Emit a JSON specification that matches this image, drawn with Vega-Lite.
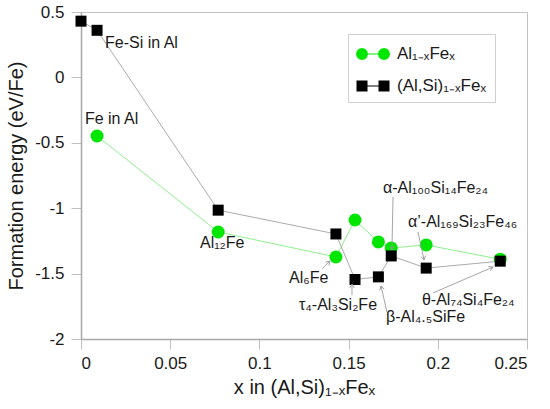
{
  "$schema": "https://vega.github.io/schema/vega-lite/v6.json",
  "autosize": "none",
  "width": 446,
  "height": 327,
  "padding": {"left": 81, "top": 12, "right": 23, "bottom": 70},
  "background": "white",
  "config": {
    "font": "Liberation Sans",
    "view": {"stroke": "#c4c4c4", "strokeWidth": 1},
    "axis": {
      "grid": false,
      "domainColor": "#a8a8a8",
      "domainWidth": 1.5,
      "tickColor": "#c0c0c0",
      "tickWidth": 1,
      "tickSize": 10,
      "labelFont": "Liberation Sans",
      "labelFontSize": 17,
      "labelColor": "#1a1a1a",
      "titleFont": "Liberation Sans",
      "titleFontSize": 20,
      "titleFontWeight": "normal",
      "titleColor": "#1a1a1a"
    }
  },
  "datasets": {
    "series": [
      {"x": 0.0, "y": 0.43, "s": "(Al,Si)₁₋ₓFeₓ"},
      {"x": 0.009, "y": 0.36, "s": "(Al,Si)₁₋ₓFeₓ"},
      {"x": 0.0769, "y": -1.015, "s": "(Al,Si)₁₋ₓFeₓ"},
      {"x": 0.1429, "y": -1.197, "s": "(Al,Si)₁₋ₓFeₓ"},
      {"x": 0.1536, "y": -1.545, "s": "(Al,Si)₁₋ₓFeₓ"},
      {"x": 0.1667, "y": -1.525, "s": "(Al,Si)₁₋ₓFeₓ"},
      {"x": 0.1739, "y": -1.365, "s": "(Al,Si)₁₋ₓFeₓ"},
      {"x": 0.1935, "y": -1.458, "s": "(Al,Si)₁₋ₓFeₓ"},
      {"x": 0.235, "y": -1.405, "s": "(Al,Si)₁₋ₓFeₓ"},
      {"x": 0.009, "y": -0.448, "s": "Al₁₋ₓFeₓ"},
      {"x": 0.0769, "y": -1.182, "s": "Al₁₋ₓFeₓ"},
      {"x": 0.1429, "y": -1.373, "s": "Al₁₋ₓFeₓ"},
      {"x": 0.1536, "y": -1.09, "s": "Al₁₋ₓFeₓ"},
      {"x": 0.1667, "y": -1.258, "s": "Al₁₋ₓFeₓ"},
      {"x": 0.1739, "y": -1.304, "s": "Al₁₋ₓFeₓ"},
      {"x": 0.1935, "y": -1.281, "s": "Al₁₋ₓFeₓ"},
      {"x": 0.235, "y": -1.39, "s": "Al₁₋ₓFeₓ"}
    ],
    "labels": [
      {"x": 0.01345, "y": 0.263, "t": "Fe-Si in Al"},
      {"x": 0.0022, "y": -0.318, "t": "Fe in Al"},
      {"x": 0.0667, "y": -1.266, "t": "Al₁₂Fe"},
      {"x": 0.1166, "y": -1.534, "t": "Al₆Fe"},
      {"x": 0.1222, "y": -1.74, "t": "τ₄-Al₃Si₂Fe"},
      {"x": 0.171, "y": -1.832, "t": "β-Al₄.₅SiFe"},
      {"x": 0.1693, "y": -0.846, "t": "α-Al₁₀₀Si₁₄Fe₂₄"},
      {"x": 0.1833, "y": -1.105, "t": "α’-Al₁₆₉Si₂₃Fe₄₆"},
      {"x": 0.1911, "y": -1.702, "t": "θ-Al₇₄Si₄Fe₂₄"}
    ],
    "arrows": [
      {"x": 0.1351, "y": -1.465, "x2": 0.1396, "y2": -1.404},
      {"x": 0.1519, "y": -1.664, "x2": 0.1519, "y2": -1.58},
      {"x": 0.1715, "y": -1.794, "x2": 0.1682, "y2": -1.595},
      {"x": 0.1749, "y": -0.914, "x2": 0.1743, "y2": -1.32},
      {"x": 0.1889, "y": -1.182, "x2": 0.1923, "y2": -1.396},
      {"x": 0.1973, "y": -1.648, "x2": 0.2309, "y2": -1.45}
    ]
  },
  "layer": [
    {
      "data": {"name": "series"},
      "transform": [{"filter": "datum.s == 'Al₁₋ₓFeₓ'"}],
      "mark": {"type": "line", "strokeWidth": 1, "color": "#8ff08f"},
      "encoding": {
        "x": {
          "field": "x", "type": "quantitative",
          "scale": {"domain": [0, 0.25], "nice": false, "zero": false},
          "axis": {"values": [0, 0.05, 0.1, 0.15, 0.2, 0.25], "labelExpr": "datum.value + ''", "labelPadding": 6, "titlePadding": 6, "title": "x in (Al,Si)₁₋ₓFeₓ"}
        },
        "y": {
          "field": "y", "type": "quantitative",
          "scale": {"domain": [-2, 0.5], "nice": false, "zero": false},
          "axis": {"values": [-2, -1.5, -1, -0.5, 0, 0.5], "labelExpr": "datum.value + ''", "labelPadding": 7, "titlePadding": 8, "title": "Formation energy (eV/Fe)"}
        }
      }
    },
    {
      "data": {"name": "series"},
      "transform": [{"filter": "datum.s != 'Al₁₋ₓFeₓ'"}],
      "mark": {"type": "line", "strokeWidth": 1, "color": "#ababab"},
      "encoding": {
        "x": {"field": "x", "type": "quantitative"},
        "y": {"field": "y", "type": "quantitative"}
      }
    },
    {
      "data": {"name": "series"},
      "transform": [{"filter": "datum.s == 'Al₁₋ₓFeₓ'"}],
      "mark": {"type": "point", "shape": "circle", "filled": true, "size": 169, "color": "#00e600", "opacity": 1},
      "encoding": {
        "x": {"field": "x", "type": "quantitative"},
        "y": {"field": "y", "type": "quantitative"}
      }
    },
    {
      "data": {"name": "series"},
      "transform": [{"filter": "datum.s != 'Al₁₋ₓFeₓ'"}],
      "mark": {"type": "point", "shape": "square", "filled": true, "size": 121, "color": "#000000", "opacity": 1},
      "encoding": {
        "x": {"field": "x", "type": "quantitative"},
        "y": {"field": "y", "type": "quantitative"}
      }
    },
    {
      "data": {"name": "series"},
      "mark": {"type": "point", "filled": true, "opacity": 0},
      "encoding": {
        "x": {"field": "x", "type": "quantitative"},
        "y": {"field": "y", "type": "quantitative"},
        "fill": {
          "field": "s", "type": "nominal",
          "scale": {"domain": ["Al₁₋ₓFeₓ", "(Al,Si)₁₋ₓFeₓ"], "range": ["#00e600", "#000000"]},
          "legend": {
            "title": null, "orient": "none", "legendX": 267, "legendY": 22,
            "padding": 8, "strokeColor": "#d0d0d0", "fillColor": "white",
            "symbolSize": 576, "symbolOffset": 5, "labelOffset": 12,
            "labelFontSize": 17, "labelFont": "Liberation Sans", "labelColor": "#1a1a1a",
            "rowPadding": 12, "symbolOpacity": 1, "symbolStrokeWidth": 0
          }
        },
        "shape": {
          "field": "s", "type": "nominal",
          "scale": {
            "domain": ["Al₁₋ₓFeₓ", "(Al,Si)₁₋ₓFeₓ"],
            "range": [
              "M-0.417,0L-0.484,0.25L-0.667,0.433L-0.917,0.5L-1.167,0.433L-1.35,0.25L-1.417,0L-1.35,-0.25L-1.167,-0.433L-0.917,-0.5L-0.667,-0.433L-0.484,-0.25Z M1.417,0L1.35,0.25L1.167,0.433L0.917,0.5L0.667,0.433L0.484,0.25L0.417,0L0.484,-0.25L0.667,-0.433L0.917,-0.5L1.167,-0.433L1.35,-0.25Z M-0.917,-0.045L0.917,-0.045L0.917,0.045L-0.917,0.045Z",
              "M-1.375,-0.458L-0.458,-0.458L-0.458,0.458L-1.375,0.458Z M0.458,-0.458L1.375,-0.458L1.375,0.458L0.458,0.458Z M-0.458,-0.045L0.458,-0.045L0.458,0.045L-0.458,0.045Z"
            ]
          },
          "legend": {
            "title": null, "orient": "none", "legendX": 267, "legendY": 22,
            "padding": 8, "strokeColor": "#d0d0d0", "fillColor": "white",
            "symbolSize": 576, "symbolOffset": 5, "labelOffset": 12,
            "labelFontSize": 17, "labelFont": "Liberation Sans", "labelColor": "#1a1a1a",
            "rowPadding": 12, "symbolOpacity": 1, "symbolStrokeWidth": 0
          }
        }
      }
    },
    {
      "data": {"name": "arrows"},
      "mark": {"type": "rule", "color": "#9a9a9a", "strokeWidth": 0.9},
      "encoding": {
        "x": {"field": "x", "type": "quantitative"},
        "y": {"field": "y", "type": "quantitative"},
        "x2": {"field": "x2"},
        "y2": {"field": "y2"}
      }
    },
    {
      "data": {"name": "arrows"},
      "transform": [{"calculate": "atan2((datum.x2 - datum.x) * 1784, (datum.y2 - datum.y) * 130.8) * 180 / PI", "as": "ang"}],
      "mark": {"type": "point", "filled": false, "shape": "M-0.6,1L0,0L0.6,1", "size": 60, "stroke": "#9a9a9a", "strokeWidth": 0.9, "opacity": 1},
      "encoding": {
        "x": {"field": "x2", "type": "quantitative"},
        "y": {"field": "y2", "type": "quantitative"},
        "angle": {"field": "ang", "type": "quantitative", "scale": null}
      }
    },
    {
      "data": {"name": "labels"},
      "mark": {"type": "text", "align": "left", "baseline": "middle", "fontSize": 16, "font": "Liberation Sans", "color": "#1a1a1a"},
      "encoding": {
        "x": {"field": "x", "type": "quantitative"},
        "y": {"field": "y", "type": "quantitative"},
        "text": {"field": "t", "type": "nominal"}
      }
    }
  ]
}
